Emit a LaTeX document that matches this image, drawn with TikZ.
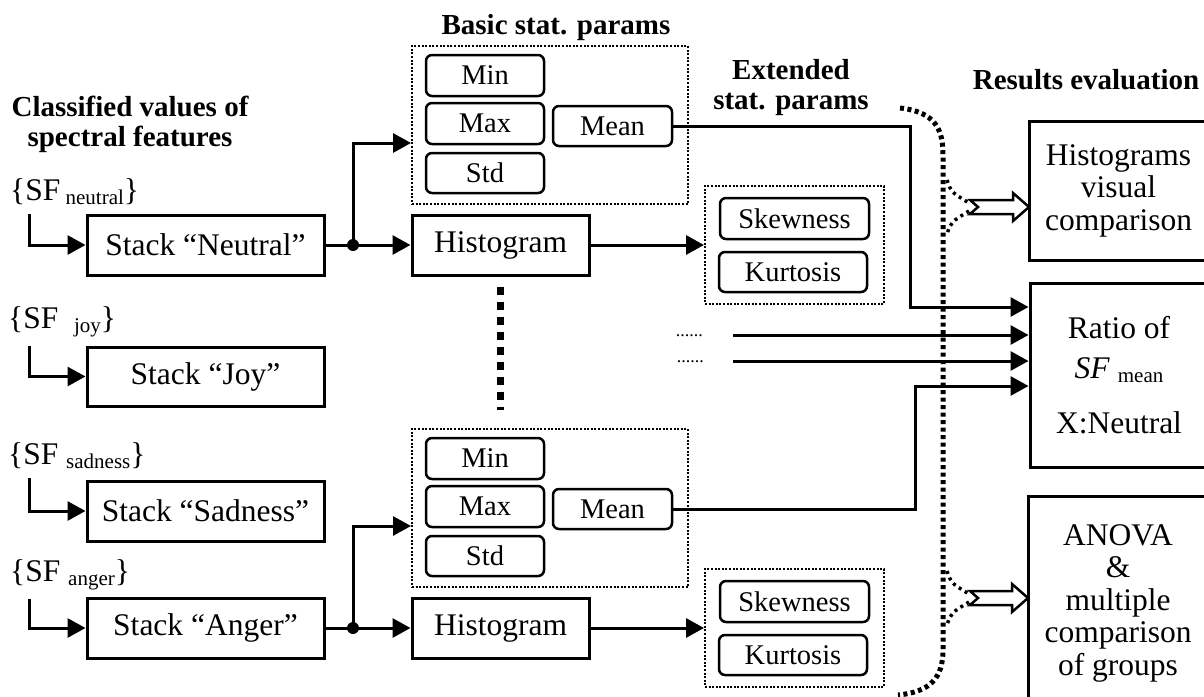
\documentclass[tikz,border=0pt]{standalone}
\usepackage{fontspec}
\setmainfont{Liberation Serif}
\usetikzlibrary{arrows.meta}
\newcommand{\lowsub}[1]{\raisebox{-4pt}{\fontsize{21}{21}\selectfont #1}}
\tikzset{sqbox/.style = {draw, line width = 3pt, inner sep = 0, font = \fontsize{31.5}{32.5}\selectfont}}
\tikzset{rbox/.style = {draw, rounded corners = 6pt, line width = 2.5pt, inner sep = 0, minimum width = 118, minimum height = 41, font = \fontsize{28.5}{30}\selectfont}}
\tikzset{dbox/.style = {draw, line width = 2pt, dash pattern = on 2pt off 1.6pt, inner sep = 0}}
\tikzset{sflabel/.style = {anchor = west, inner sep = 0, font = \fontsize{31.5}{32.5}\selectfont}}
\tikzset{heading/.style = {align = center, inner sep = 0, font = \fontsize{29}{30}\selectfont\bfseries}}
\tikzset{flow/.style = {line width = 3pt, -{Triangle[length = 18pt, width = 19pt]}}}
\tikzset{jdot/.style = {fill, circle, inner sep = 0, minimum size = 12}}
\tikzset{dotsnote/.style = {anchor = base east, inner sep = 0, font = \fontsize{18}{18}\selectfont}}
\tikzset{bracepath/.style = {line width = 5pt, dash pattern = on 4pt off 3.5pt}}
\tikzset{branchpath/.style = {line width = 3.5pt, dash pattern = on 3pt off 4pt}}
\tikzset{hollowarrow/.style = {draw, fill = white, line width = 2.5pt, line join = miter}}

\begin{document}
\begin{tikzpicture}[x = 1pt, y = -1pt]
    \useasboundingbox (0, 0) rectangle (1204, 696);
    \clip (0, 0) rectangle (1204, 696);

    \node [heading] (hclass) at (130, 124) {Classified values of\\spectral features};
    \node [heading] (hbasic) at (556, 28) {Basic stat. params};
    \node [heading] (hext) at (791, 88) {Extended\\stat. params};
    \node [heading] (hres) at (1086, 80) {Results evaluation};

    \node [sflabel] (sfneutral) at (10, 192) {\{SF\,\lowsub{neutral}\}};
    \node [sflabel] (sfjoy) at (8, 322) {\{SF\ \ \lowsub{joy}\}};
    \node [sflabel] (sfsadness) at (8, 456) {\{SF \lowsub{sadness}\}};
    \node [sflabel] (sfanger) at (10, 575) {\{SF \lowsub{anger}\}};

    \node [sqbox, minimum width = 237, minimum height = 60] (stneutral) at (205.5, 245) {Stack “Neutral”};
    \node [sqbox, minimum width = 237, minimum height = 59] (stjoy) at (205.5, 376.5) {Stack “Joy”};
    \node [sqbox, minimum width = 237, minimum height = 60] (stsadness) at (205.5, 511) {Stack “Sadness”};
    \node [sqbox, minimum width = 237, minimum height = 60] (stanger) at (205.5, 628) {Stack “Anger”};

    \draw [flow] ([xshift = 19pt, yshift = -9pt] sfneutral.south west) |- (stneutral.west);
    \draw [flow] ([xshift = 21pt, yshift = -9pt] sfjoy.south west) |- (stjoy.west);
    \draw [flow] ([xshift = 21pt, yshift = -9pt] sfsadness.south west) |- (stsadness.west);
    \draw [flow] ([xshift = 19pt, yshift = -9pt] sfanger.south west) |- (stanger.west);

    % neutral branch
    \node [dbox, minimum width = 276, minimum height = 158] (basic1) at (550, 125) {};
    \node [rbox] (min1) at (485, 75.5) {Min};
    \node [rbox] (max1) at (485, 123.5) {Max};
    \node [rbox, minimum height = 40] (std1) at (485, 173) {Std};
    \node [rbox, minimum width = 119, minimum height = 40] (mean1) at (612.5, 126) {Mean};
    \node [sqbox, minimum width = 177, minimum height = 60] (hist1) at (500.5, 245) {Histogram};
    \node [dbox, minimum width = 179, minimum height = 118] (ext1) at (794.5, 245) {};
    \node [rbox, minimum width = 149] (skew1) at (794.5, 218.5) {Skewness};
    \node [rbox, minimum width = 148, minimum height = 40] (kurt1) at (793, 272) {Kurtosis};
    \node [jdot] (split1) at (353, 245) {};

    % anger branch
    \node [dbox, minimum width = 276, minimum height = 158] (basic2) at (550, 508) {};
    \node [rbox] (min2) at (485, 458.5) {Min};
    \node [rbox] (max2) at (485, 506.5) {Max};
    \node [rbox, minimum height = 40] (std2) at (485, 556) {Std};
    \node [rbox, minimum width = 119, minimum height = 40] (mean2) at (612.5, 509) {Mean};
    \node [sqbox, minimum width = 177, minimum height = 60] (hist2) at (500.5, 628) {Histogram};
    \node [dbox, minimum width = 179, minimum height = 118] (ext2) at (794.5, 628) {};
    \node [rbox, minimum width = 149] (skew2) at (794.5, 601.5) {Skewness};
    \node [rbox, minimum width = 148, minimum height = 40] (kurt2) at (793, 655) {Kurtosis};
    \node [jdot] (split2) at (353, 628) {};

    % results
    \node [sqbox, minimum width = 179, minimum height = 139, align = center] (visual) at (1118.5, 190.5) {Histograms\\visual\\comparison};
    \node [sqbox, minimum width = 178, minimum height = 184, align = center] (ratio) at (1119, 375) {Ratio of\\[8pt]\textit{SF} \lowsub{mean}\\[22pt]X:Neutral};
    \node [sqbox, minimum width = 180, minimum height = 214, align = center] (anova) at (1118, 603) {ANOVA\\\&\\multiple\\comparison\\of groups};

    \draw [line width = 3pt] (stneutral.east) -- (split1.center);
    \draw [flow] (split1.center) |- ([yshift = -18pt] basic1.west);
    \draw [flow] (split1.center) -- (hist1.west);
    \draw [flow] (hist1.east) -- (ext1.west);

    \draw [line width = 3pt] (stanger.east) -- (split2.center);
    \draw [flow] (split2.center) |- ([yshift = -18pt] basic2.west);
    \draw [flow] (split2.center) -- (hist2.west);
    \draw [flow] (hist2.east) -- (ext2.west);

    \coordinate (bend1) at (910, 307);
    \coordinate (bend2) at (915, 386);
    \draw [flow] (mean1.east) -| (bend1) -- (ratio.west |- bend1);
    \draw [flow] (mean2.east) -| (bend2) -- (ratio.west |- bend2);

    \node [dotsnote] (etc1) at (703, 336) {......};
    \node [dotsnote] (etc2) at (704, 362) {......};
    \coordinate (etc1end) at (733, 335);
    \coordinate (etc2end) at (733, 361);
    \draw [flow] (etc1end) -- (ratio.west |- etc1end);
    \draw [flow] (etc2end) -- (ratio.west |- etc2end);

    \draw [line width = 7pt, dash pattern = on 8pt off 7pt] ([yshift = -10pt] hist1.south) -- ++(0, 123);

    \draw [bracepath] (900, 108) .. controls (936, 112) and (943, 130) .. (943, 155)
    -- (943, 650) .. controls (943, 678) and (930, 692) .. (898, 695);
    \draw [branchpath] (947, 180) .. controls (951, 192) .. (969, 203);
    \draw [branchpath] (969, 211) .. controls (951, 222) .. (947, 234);
    \draw [branchpath] (947, 571) .. controls (951, 583) .. (969, 594);
    \draw [branchpath] (969, 602) .. controls (951, 613) .. (947, 625);

    \draw [hollowarrow] (970, 200) -- (1013, 200) -- (1013, 193) -- (1029, 207) -- (1013, 221)
    -- (1013, 214) -- (970, 214) -- (978, 207) -- cycle;
    \draw [hollowarrow] (970, 591) -- (1012, 591) -- (1012, 584) -- (1028, 598) -- (1012, 612)
    -- (1012, 605) -- (970, 605) -- (978, 598) -- cycle;
  \end{tikzpicture}
\end{document}
